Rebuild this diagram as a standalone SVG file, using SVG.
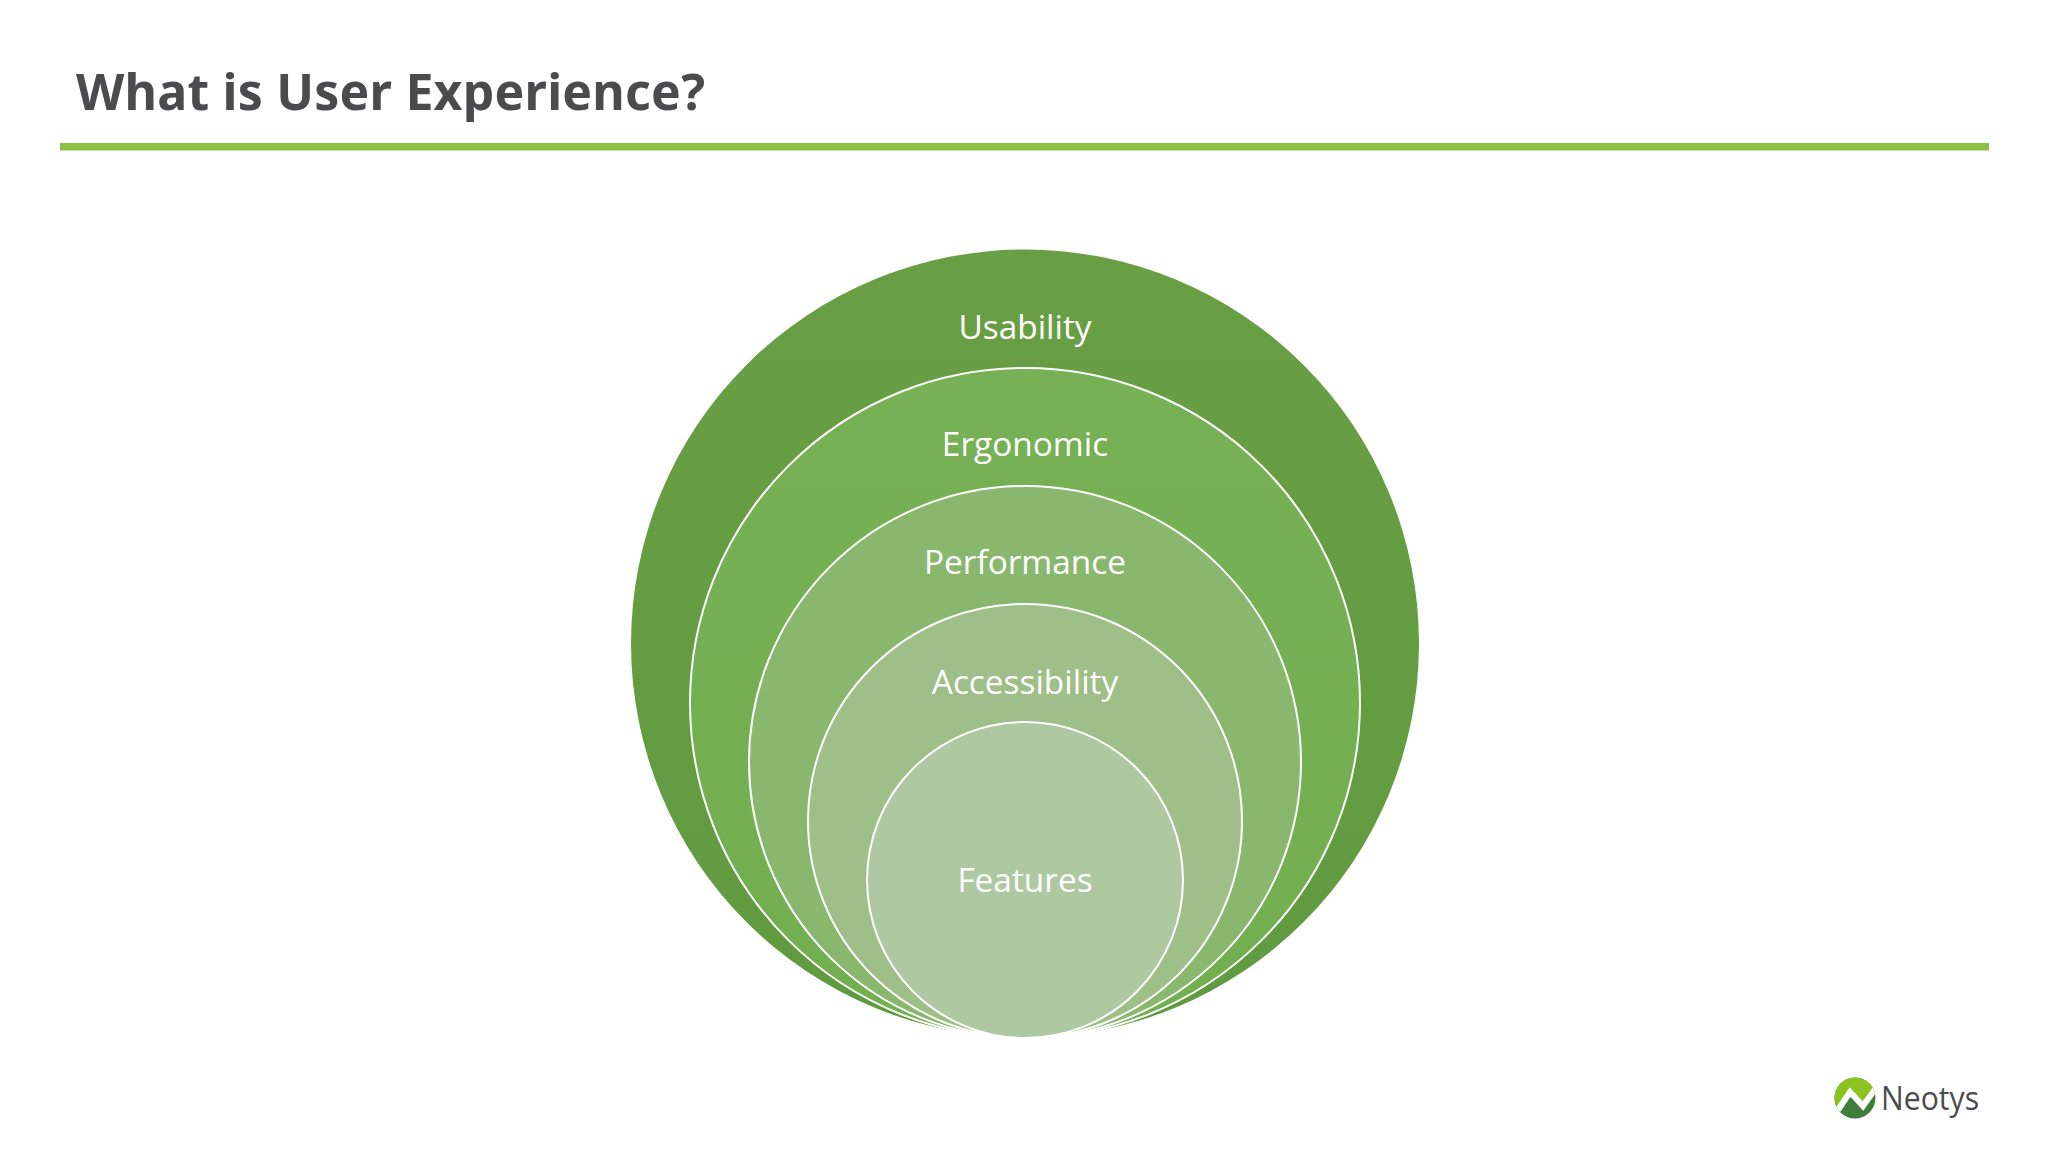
<svg xmlns="http://www.w3.org/2000/svg" width="2048" height="1152" viewBox="0 0 2048 1152">
<style>
.ring{stroke:#fff;stroke-width:2}
.lab{font-family:"Open Sans","Noto Sans",sans-serif;font-size:33.4px;fill:#fff;text-anchor:middle}
</style>
<defs>
<linearGradient id="g1" x1="0" y1="0" x2="0" y2="1"><stop offset="0" stop-color="#699F44"/><stop offset="1" stop-color="#609A40"/></linearGradient>
<linearGradient id="g2" x1="0" y1="0" x2="0" y2="1"><stop offset="0" stop-color="#76B155"/><stop offset="1" stop-color="#72AF50"/></linearGradient>
<clipPath id="lc"><circle cx="1855" cy="1098" r="20.5"/></clipPath>
</defs>
<rect width="2048" height="1152" fill="#fff"/>
<g id="header">
<text x="76" y="110" font-family="'Noto Sans','DejaVu Sans',sans-serif" font-weight="700" font-size="50" fill="#4B4B4D" textLength="629" lengthAdjust="spacing">What is User Experience?</text>
<rect x="60" y="143" width="1929" height="7.5" fill="#8BC145"/>
</g>
<g id="usability"><circle cx="1025" cy="643.5" r="394" fill="url(#g1)"/><text class="lab" x="1025" y="339">Usability</text></g>
<g id="ergonomic"><circle class="ring" cx="1025" cy="703" r="335" fill="url(#g2)"/><text class="lab" x="1025" y="456">Ergonomic</text></g>
<g id="performance"><circle class="ring" cx="1025" cy="762" r="276" fill="#89B76E"/><text class="lab" x="1025" y="573.5">Performance</text></g>
<g id="accessibility"><circle class="ring" cx="1025" cy="821" r="217" fill="#9EC088"/><text class="lab" x="1025" y="693.5">Accessibility</text></g>
<g id="features"><circle class="ring" cx="1025" cy="880" r="158" fill="#AEC9A1"/><text class="lab" x="1025" y="892">Features</text></g>
<g id="logo">
<g clip-path="url(#lc)">
<rect x="1834" y="1077" width="42" height="42" fill="#3F7D3A"/>
<path d="M1830 1070H1880V1088L1874 1092L1863 1106L1850 1092L1840 1108H1830Z" fill="#8CC31F"/>
<path d="M1838 1110L1850 1092L1863 1106L1876 1088" fill="none" stroke="#fff" stroke-width="6"/>
</g>
<text x="1881" y="1110" font-family="'Open Sans',sans-serif" font-size="32" fill="#4B4B4D" textLength="98" lengthAdjust="spacingAndGlyphs">Neotys</text>
</g>
</svg>
